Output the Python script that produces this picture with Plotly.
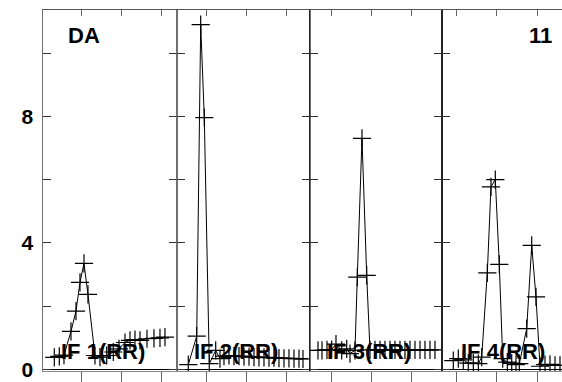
import plotly.graph_objects as go

# ---- data ----
p1_x = [3.08, 4.33, 5.5, 7.25, 8.5, 9.5, 10.5, 11.5, 13.25, 14.5, 16.18, 17.83, 19.25, 20.75, 22.0, 23.25, 24.5, 26.25, 28.0, 29.5, 30.75]
p1_y = [0.38, 0.41, 0.45, 1.2, 1.84, 2.75, 3.35, 2.37, 0.44, 0.39, 0.44, 0.55, 0.65, 0.85, 0.92, 0.94, 0.92, 0.97, 0.98, 1.0, 1.02]

p2_x = [5.33, 7.43, 8.43, 9.33, 10.58, 12.18, 13.25, 14.25, 15.5, 16.75, 18.0, 19.25, 20.5, 21.75, 23.0, 24.25, 25.5, 26.75, 28.0, 29.25, 30.5, 31.75, 33.0, 34.0]
p2_y = [0.15, 1.05, 10.9, 7.96, 0.18, 0.6, 0.34, 0.42, 0.44, 0.42, 0.42, 0.4, 0.4, 0.39, 0.38, 0.38, 0.37, 0.37, 0.36, 0.35, 0.35, 0.34, 0.34, 0.33]

p3_x = [6.5, 7.5, 8.75, 9.93, 11.0, 12.43, 13.68, 14.5, 15.75, 16.33, 17.5, 18.68, 19.5, 20.75, 22.0, 23.25, 24.5, 25.75, 27.0, 28.25, 29.5, 30.75, 32.0, 33.25, 34.5, 35.75]
p3_y = [0.6, 0.6, 0.62, 0.63, 0.8, 0.6, 0.65, 0.5, 0.6, 2.92, 7.3, 2.97, 0.62, 0.62, 0.62, 0.62, 0.62, 0.62, 0.62, 0.62, 0.62, 0.62, 0.62, 0.62, 0.62, 0.62]

p4_x = [9.08, 10.33, 11.58, 12.83, 14.08, 15.33, 16.18, 17.58, 18.5, 19.58, 20.58, 21.43, 22.58, 23.68, 24.75, 25.58, 27.43, 28.68, 29.75, 30.75, 32.0, 33.25, 34.5, 35.75]
p4_y = [0.28, 0.34, 0.3, 0.2, 0.2, 0.18, 0.39, 3.05, 5.77, 6.0, 3.32, 0.34, 0.23, 0.2, 0.15, 0.18, 1.29, 3.92, 2.29, 0.1, 0.15, 0.16, 0.13, 0.13]

panel_labels = ["IF 1(RR)", "IF 2(RR)", "IF 3(RR)", "IF 4(RR)"]
corner_left = "DA"
corner_right = "11"
y_ticks = [0, 2, 4, 6, 8, 10]
y_ticktext = ["0", "", "4", "", "8", ""]
x_ticks = [10, 20, 30]

xs = [p1_x, p2_x, p3_x, p4_x]
ys = [p1_y, p2_y, p3_y, p4_y]

FONT = "Liberation Sans, Arial, sans-serif"
W, H = 562, 382
ML, MR, MT, MB = 43, 0, 10, 11
PW = W - ML - MR
edges = [43.3, 176.5, 309.5, 442.3, 562]
domains = [[(edges[i] - ML) / PW, min(1, (edges[i + 1] - ML) / PW)] for i in range(4)]
x_ranges = [[0.33, 33.63], [2.38, 35.63], [4.38, 37.58], [6.33, 36.25]]
y_range = [-0.05, 11.36]
line_cols = ["#707070", "#707070", "#222222", "#222222"]

fig = go.Figure()
layout = dict(
    width=W, height=H,
    margin=dict(l=ML, r=MR, t=MT, b=MB, autoexpand=False),
    paper_bgcolor="white", plot_bgcolor="white",
    showlegend=False,
    font=dict(family=FONT, color="black"),
)

for i in range(4):
    n = i + 1
    sx = "" if n == 1 else str(n)
    fig.add_trace(go.Scatter(
        x=xs[i], y=ys[i], xaxis="x" + sx, yaxis="y" + sx,
        mode="lines+markers",
        line=dict(color="black", width=1),
        marker=dict(symbol="cross-thin", size=13, line=dict(color="black", width=1.2)),
        hoverinfo="skip",
    ))
    layout["xaxis" + sx] = dict(
        domain=domains[i], range=x_ranges[i], anchor="y" + sx,
        showgrid=False, zeroline=False,
        tickvals=x_ticks, showticklabels=False,
        ticks="outside", ticklen=12, tickcolor="#666", tickwidth=1,
        showline=True, linecolor="#888", linewidth=1, mirror=False,
    )
    layout["yaxis" + sx] = dict(
        domain=[0, 1], range=y_range, anchor="x" + sx,
        showgrid=False,
        zeroline=True, zerolinecolor="black", zerolinewidth=1,
        tickvals=y_ticks,
        ticktext=["<b>%s</b>" % t if t else "" for t in y_ticktext],
        showticklabels=(i == 0),
        tickfont=dict(size=21, family=FONT, color="black"),
        ticks="inside", ticklen=8, tickcolor="#333", tickwidth=1,
        showline=True, linecolor=line_cols[i], linewidth=1,
        mirror=("ticks" if i < 3 else False),
        ticklabelstandoff=5,
    )
    # top ticks
    tn = str(n + 4)
    fig.add_trace(go.Scatter(x=[None], y=[None], xaxis="x" + tn, yaxis="y" + sx, showlegend=False))
    layout["xaxis" + tn] = dict(
        domain=domains[i], range=x_ranges[i], anchor="y" + sx,
        overlaying="x" + sx, side="top",
        showgrid=False, zeroline=False,
        tickvals=x_ticks, showticklabels=False,
        ticks="inside", ticklen=6, tickcolor="#666", tickwidth=1,
        showline=True, linecolor="#555", linewidth=1,
    )

fig.update_layout(**layout)

ann = []
for i, lab in enumerate(panel_labels):
    cx = [103, 236, 369, 503][i]
    ann.append(dict(text="<b>%s</b>" % lab, xref="paper", yref="paper",
                    x=(cx - ML) / PW, y=(370.6 - 351.5) / 360.6,
                    xanchor="center", yanchor="middle", showarrow=False,
                    font=dict(size=22, family=FONT, color="black")))
ann.append(dict(text="<b>%s</b>" % corner_left, xref="paper", yref="paper",
                x=(84 - ML) / PW, y=(370.6 - 35) / 360.6,
                xanchor="center", yanchor="middle", showarrow=False,
                font=dict(size=22, family=FONT, color="black")))
ann.append(dict(text="<b>%s</b>" % corner_right, xref="paper", yref="paper",
                x=(540.5 - ML) / PW, y=(370.6 - 35) / 360.6,
                xanchor="center", yanchor="middle", showarrow=False,
                font=dict(size=22, family=FONT, color="black")))
fig.update_layout(annotations=ann)

fig.write_html("out.html", config={"displayModeBar": False},
               post_script="document.body.style.margin='0';document.body.style.overflow='hidden';")
